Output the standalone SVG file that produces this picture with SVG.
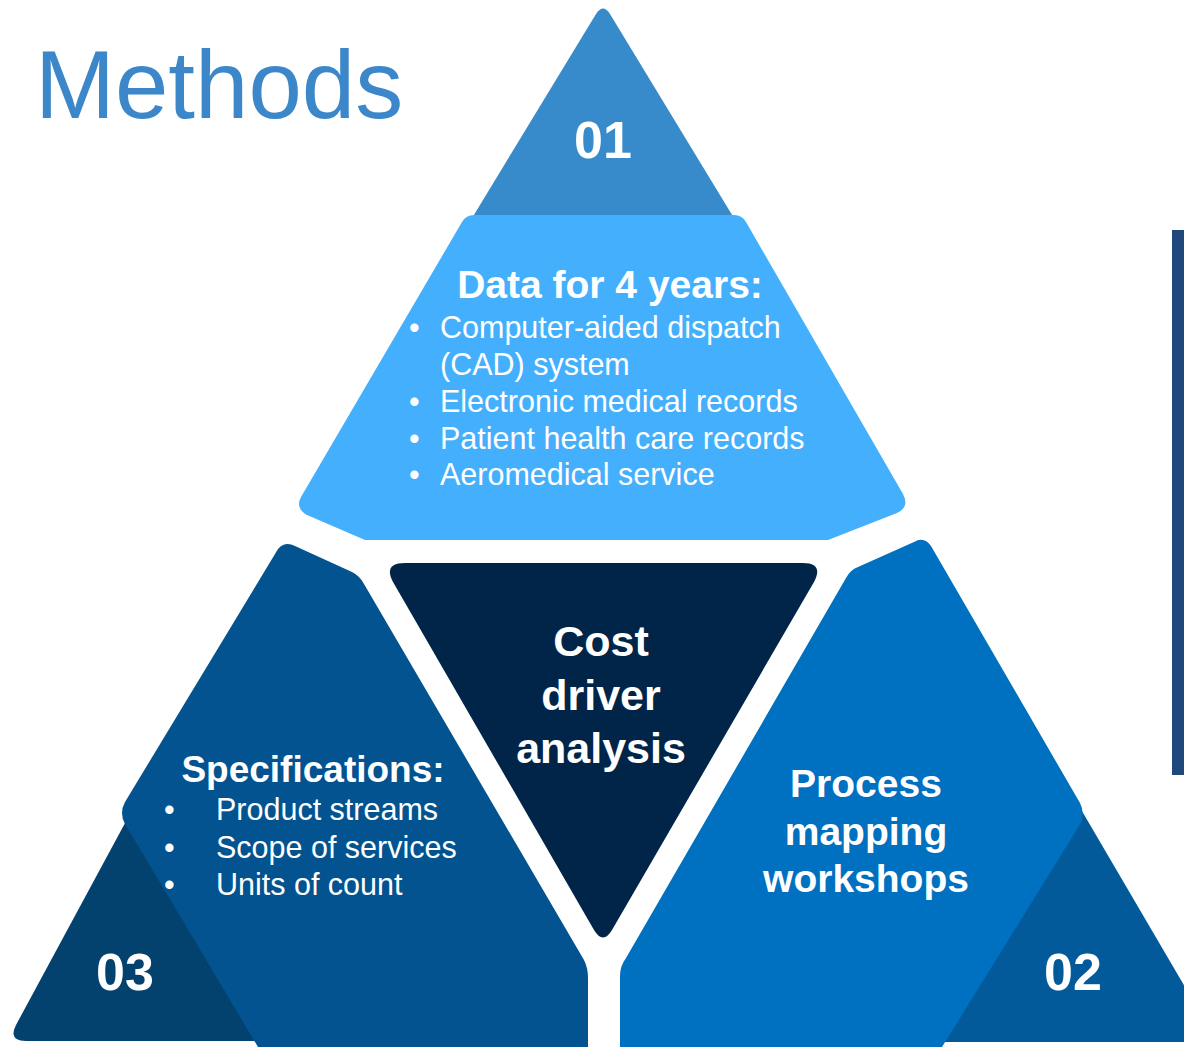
<svg xmlns="http://www.w3.org/2000/svg" width="1184" height="1047" viewBox="0 0 1184 1047">
<style>
text{font-family:"Liberation Sans",Arial,sans-serif;fill:#fff}
.b{font-weight:bold}
.num{font-weight:bold;font-size:52px}
.li{font-size:30.5px}
.h{font-weight:bold;font-size:39px}
.c{font-weight:bold;font-size:43px}
</style>
<rect width="1184" height="1047" fill="#fff"/>
<text x="35" y="118" style="font-size:96px;fill:#3b87c9">Methods</text>
<rect x="1172" y="230" width="12" height="545" fill="#1f497d"/>

<g id="node-01">
<path d="M596,14 Q603,3 610,14 L740,228 L466,228 Z" fill="#388bcb"/>
<text class="num" x="603" y="158" text-anchor="middle">01</text>
</g>

<g id="node-data">
<path d="M474,215 L734,215 Q742,215 746,222 L903,494 Q910,507 897,513 L828,540 L365,540 L307,515 Q295,508 301,497 L462,222 Q466,215 474,215 Z" fill="#44b0fd"/>
<text class="h" x="610" y="298" text-anchor="middle">Data for 4 years:</text>
<g class="li">
<text x="409" y="338">•</text><text x="440" y="338">Computer-aided dispatch</text>
<text x="440" y="375">(CAD) system</text>
<text x="409" y="412">•</text><text x="440" y="412">Electronic medical records</text>
<text x="409" y="449">•</text><text x="440" y="449">Patient health care records</text>
<text x="409" y="485">•</text><text x="440" y="485">Aeromedical service</text>
</g>
</g>

<g id="node-center">
<path d="M405,563 L803,563 Q824,563 814,582 L612,930 Q603,945 594,930 L393,582 Q383,563 405,563 Z" fill="#012548"/>
<text class="c" x="601" y="656" text-anchor="middle">Cost</text>
<text class="c" x="601" y="710" text-anchor="middle">driver</text>
<text class="c" x="601" y="763" text-anchor="middle">analysis</text>
</g>

<g id="node-03">
<path d="M131,812 L300,1041 L26,1041 Q8,1041 16,1025 Z" fill="#03416f"/>
<path d="M278,549 Q285,541 295,546 L352,572 Q360,576 364,584 L584,960 Q588,968 588,978 L588,1047 L258,1047 L125,824 Q119,813 125,802 Z" fill="#02538f"/>
<text class="num" x="125" y="990" text-anchor="middle">03</text>
<text class="b" x="313" y="782" text-anchor="middle" style="font-size:37px">Specifications:</text>
<g class="li">
<text x="164" y="820">•</text><text x="216" y="820">Product streams</text>
<text x="164" y="858">•</text><text x="216" y="858">Scope of services</text>
<text x="164" y="895">•</text><text x="216" y="895">Units of count</text>
</g>
</g>

<g id="node-02">
<path d="M1079,806 L1195,1004 L1195,1042 L900,1042 Z" fill="#035a9b"/>
<path d="M914,542 Q924,536 931,546 L1080,803 Q1086,815 1079,826 L942,1047 L620,1047 L620,976 Q620,966 626,958 L846,578 Q850,570 858,567 Z" fill="#0070c0"/>
<text class="num" x="1073" y="990" text-anchor="middle">02</text>
<text class="b" x="866" y="797" text-anchor="middle" style="font-size:39px">Process</text>
<text class="b" x="866" y="845" text-anchor="middle" style="font-size:39px">mapping</text>
<text class="b" x="866" y="892" text-anchor="middle" style="font-size:39px">workshops</text>
</g>

<g id="connectors"></g>
</svg>
